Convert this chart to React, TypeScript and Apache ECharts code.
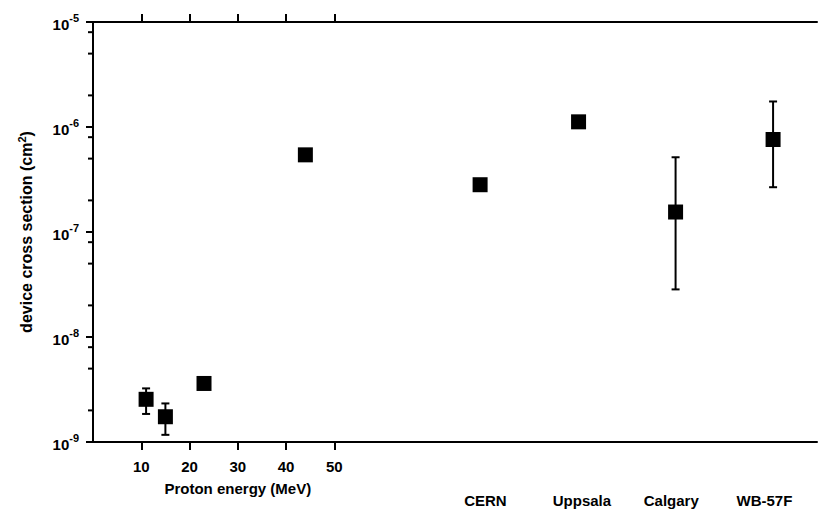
import React, { useEffect, useRef } from "react";
import * as echarts from "echarts";

const energyTicks = [10, 20, 30, 40, 50];
const energies = [11, 15, 23, 44];
const energyValues = [2.55e-9, 1.74e-9, 3.61e-9, 5.43e-7];
const energyErrLow = [1.85e-9, 1.17e-9];
const energyErrHigh = [3.24e-9, 2.33e-9];

const facilities = ["CERN", "Uppsala", "Calgary", "WB-57F"];
const facilityX = [80.2, 100.6, 120.7, 140.9];
const facilityLabelX = [81.3, 101.3, 119.8, 139.1];
const facilityValues = [2.82e-7, 1.12e-6, 1.55e-7, 7.6e-7];
const facilityErrLow = [null, null, 2.84e-8, 2.67e-7];
const facilityErrHigh = [null, null, 5.15e-7, 1.75e-6];

const yMajor = [1e-9, 1e-8, 1e-7, 1e-6, 1e-5];
const yMinorMultipliers = [2, 5, 8];
const xName = "Proton energy (MeV)";
const xNameAt = 30;

const FONT = "'Liberation Sans', Arial, Helvetica, sans-serif";

export default function App() {
  const ref = useRef<HTMLDivElement>(null);
  useEffect(() => {
    if (!ref.current) return;
    const chart = echarts.init(ref.current, undefined, { renderer: "svg" });

    const points: number[][] = [];
    energies.forEach((e, i) => points.push([e, energyValues[i]]));
    facilityX.forEach((x, i) => points.push([x, facilityValues[i]]));

    const errors: number[][] = [];
    energyErrLow.forEach((lo, i) => errors.push([energies[i], lo, energyErrHigh[i]]));
    facilityErrLow.forEach((lo, i) => {
      if (lo != null && facilityErrHigh[i] != null) errors.push([facilityX[i], lo, facilityErrHigh[i] as number]);
    });

    const minor: number[][] = [];
    for (let k = 0; k < yMajor.length - 1; k++) {
      yMinorMultipliers.forEach((m) => minor.push([0, yMajor[k] * m]));
    }

    const black = "#000";

    const option: any = {
      animation: false,
      backgroundColor: "#fff",
      grid: { left: 93, right: 1, top: 22, bottom: 68 },
      xAxis: [
        {
          type: "value",
          min: 0,
          max: 150,
          position: "bottom",
          axisLine: { show: true, lineStyle: { color: black, width: 2 } },
          axisTick: { show: true, customValues: energyTicks, length: 8, lineStyle: { color: black, width: 2 } },
          axisLabel: {
            show: true,
            customValues: energyTicks,
            margin: 17,
            color: black,
            fontFamily: FONT,
            fontWeight: "bold",
            fontSize: 15,
          },
          splitLine: { show: false },
        },
        {
          type: "value",
          min: 0,
          max: 150,
          position: "bottom",
          axisLine: { show: false },
          axisTick: { show: false },
          axisLabel: {
            show: true,
            customValues: [xNameAt],
            formatter: () => xName,
            margin: 39,
            color: black,
            fontFamily: FONT,
            fontWeight: "bold",
            fontSize: 15,
          },
          splitLine: { show: false },
        },
        {
          type: "value",
          min: 0,
          max: 150,
          position: "bottom",
          axisLine: { show: false },
          axisTick: { show: false },
          axisLabel: {
            show: true,
            customValues: facilityLabelX,
            formatter: (v: number) => {
              let best = 0;
              facilityLabelX.forEach((x, i) => {
                if (Math.abs(x - v) < Math.abs(facilityLabelX[best] - v)) best = i;
              });
              return facilities[best];
            },
            margin: 51,
            color: black,
            fontFamily: FONT,
            fontWeight: "bold",
            fontSize: 15,
          },
          splitLine: { show: false },
        },
        {
          type: "value",
          min: 0,
          max: 150,
          position: "top",
          axisLine: { show: true, lineStyle: { color: black, width: 2 } },
          axisTick: { show: true, customValues: energyTicks, length: 8, lineStyle: { color: black, width: 2 } },
          axisLabel: { show: false },
          splitLine: { show: false },
        },
      ],
      yAxis: [
        {
          type: "log",
          logBase: 10,
          min: 1e-9,
          max: 1e-5,
          position: "left",
          name: "{a|device cross section (cm}{s|2}{a|)}",
          nameLocation: "middle",
          nameGap: 57,
          nameTextStyle: {
            rich: {
              a: { fontFamily: FONT, fontWeight: "bold", fontSize: 16, color: black, lineHeight: 20 },
              s: { fontFamily: FONT, fontWeight: "bold", fontSize: 11, color: black, verticalAlign: "top", lineHeight: 12 },
            },
          },
          axisLine: { show: true, lineStyle: { color: black, width: 2 } },
          axisTick: { show: true, customValues: yMajor, length: 7, lineStyle: { color: black, width: 2 } },
          axisLabel: {
            show: true,
            customValues: yMajor,
            margin: 14,
            formatter: (v: number) => `{b|10}{s|${Math.round(Math.log10(v))}}`,
            rich: {
              b: { fontFamily: FONT, fontWeight: "bold", fontSize: 15, color: black, lineHeight: 19, verticalAlign: "bottom" },
              s: { fontFamily: FONT, fontWeight: "bold", fontSize: 11, color: black, verticalAlign: "top", lineHeight: 12 },
            },
          },
          splitLine: { show: false },
          minorTick: { show: false },
        },
      ],
      series: [
        {
          type: "custom",
          name: "minorTicks",
          xAxisIndex: 0,
          yAxisIndex: 0,
          clip: false,
          silent: true,
          z: 10,
          data: minor,
          renderItem: (params: any, api: any) => {
            const p = api.coord([api.value(0), api.value(1)]);
            return {
              type: "line",
              shape: { x1: p[0] - 5, y1: p[1], x2: p[0], y2: p[1] },
              style: { stroke: black, lineWidth: 2 },
            };
          },
        },
        {
          type: "custom",
          name: "errors",
          xAxisIndex: 0,
          yAxisIndex: 0,
          clip: false,
          silent: true,
          data: errors,
          renderItem: (params: any, api: any) => {
            const x = api.value(0);
            const lo = api.coord([x, api.value(1)]);
            const hi = api.coord([x, api.value(2)]);
            const w = 4;
            const st = { stroke: black, lineWidth: 2 };
            return {
              type: "group",
              children: [
                { type: "line", shape: { x1: lo[0], y1: lo[1], x2: hi[0], y2: hi[1] }, style: st },
                { type: "line", shape: { x1: lo[0] - w, y1: lo[1], x2: lo[0] + w, y2: lo[1] }, style: st },
                { type: "line", shape: { x1: hi[0] - w, y1: hi[1], x2: hi[0] + w, y2: hi[1] }, style: st },
              ],
            };
          },
        },
        {
          type: "scatter",
          name: "points",
          xAxisIndex: 0,
          yAxisIndex: 0,
          symbol: "rect",
          symbolSize: 15,
          itemStyle: { color: black, opacity: 1 },
          data: points,
          z: 5,
        },
      ],
    };
    chart.setOption(option);
    return () => chart.dispose();
  }, []);
  return (
    <div
      ref={ref}
      style={{ position: "fixed", left: 0, top: 0, width: 818, height: 510, background: "#fff" }}
    />
  );
}
